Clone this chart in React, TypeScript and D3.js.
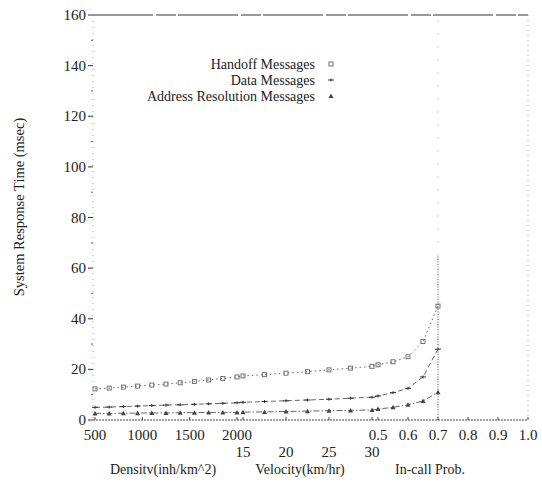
import React from "react";
import * as d3 from "d3";

// ---- tick labels ----
const yTicks = [0, 20, 40, 60, 80, 100, 120, 140, 160];
const densityTicks = [500, 1000, 1500, 2000];
const velocityTicks = [15, 20, 25, 30];
const probTicks = [0.5, 0.6, 0.7, 0.8, 0.9, 1.0];

// ---- x values of each segment ----
const densityX = [500, 650, 800, 950, 1100, 1250, 1400, 1550, 1700, 1850, 2000];
const velocityX = [15, 17.5, 20, 22.5, 25, 27.5, 30];
const probX = [0.5, 0.55, 0.6, 0.65, 0.7];

// ---- series values (msec) ----
const handoffDensity = [12.3, 12.6, 13.0, 13.4, 13.8, 14.2, 14.7, 15.2, 15.8, 16.4, 17.0];
const handoffVelocity = [17.4, 17.9, 18.5, 19.1, 19.8, 20.5, 21.2];
const handoffProb = [21.8, 23.0, 25.0, 31.0, 45.0];

const dataDensity = [5.0, 5.1, 5.3, 5.5, 5.7, 5.9, 6.0, 6.2, 6.4, 6.6, 6.8];
const dataVelocity = [7.0, 7.3, 7.6, 7.9, 8.2, 8.6, 9.0];
const dataProb = [9.5, 10.8, 12.5, 17.0, 28.0];

const addrDensity = [2.6, 2.6, 2.7, 2.7, 2.8, 2.8, 2.9, 2.9, 3.0, 3.0, 3.0];
const addrVelocity = [3.1, 3.2, 3.4, 3.5, 3.7, 3.8, 4.0];
const addrProb = [4.3, 5.0, 6.0, 7.5, 11.0];

const seriesNames = ["Handoff Messages", "Data Messages", "Address Resolution Messages"];

// vertical spike at in-call prob 0.7 (dense part up to this value)
const spikeAt = 0.7;
const spikeDenseTop = 65;

const W = 542;
const H = 487;
const left = 93;
const right = 528;
const top = 15;
const bottom = 420;

const y = d3.scaleLinear().domain([0, 160]).range([bottom, top]);
const xDensity = d3.scaleLinear().domain([500, 2000]).range([95, 237]);
const xVelocity = d3.scaleLinear().domain([15, 30]).range([243, 372]);
const xProb = d3.scaleLinear().domain([0.5, 1.0]).range([378, 528]);

function buildPoints(dv: number[], vv: number[], pv: number[]) {
  const pts: [number, number][] = [];
  densityX.forEach((d, i) => pts.push([xDensity(d), y(dv[i])]));
  velocityX.forEach((d, i) => pts.push([xVelocity(d), y(vv[i])]));
  probX.forEach((d, i) => pts.push([xProb(d), y(pv[i])]));
  return pts;
}

const series = [
  { name: seriesNames[0], pts: buildPoints(handoffDensity, handoffVelocity, handoffProb), dash: "1.5,3", marker: "square" },
  { name: seriesNames[1], pts: buildPoints(dataDensity, dataVelocity, dataProb), dash: "5,3", marker: "star" },
  { name: seriesNames[2], pts: buildPoints(addrDensity, addrVelocity, addrProb), dash: "6,2,1.5,2", marker: "triangle" },
];

const line = d3.line<[number, number]>().x((d) => d[0]).y((d) => d[1]);

function Marker({ type, x, yy }: { type: string; x: number; yy: number }) {
  if (type === "square")
    return <rect x={x - 2} y={yy - 2} width={4} height={4} fill="none" stroke="#666" strokeWidth={0.9} />;
  if (type === "star")
    return (
      <g stroke="#333" strokeWidth={1}>
        <line x1={x - 3} y1={yy} x2={x + 3} y2={yy} />
        <line x1={x} y1={yy - 1.5} x2={x} y2={yy + 1.5} />
      </g>
    );
  return <path d={`M${x},${yy - 2.5}L${x + 2.5},${yy + 2}L${x - 2.5},${yy + 2}Z`} fill="#444" />;
}

const font = "'Liberation Serif', 'DejaVu Serif', serif";

export default function App() {
  const minorY = d3.range(10, 160, 10).filter((v) => v % 20 !== 0);
  return (
    <svg width={W} height={H} style={{ position: "absolute", left: 0, top: 0, background: "#fff" }} fontFamily={font}>
      {/* frame */}
      <line x1={left} y1={y(160)} x2={right} y2={y(160)} stroke="#333" strokeWidth={1} strokeDasharray="60,3,20,2" />
      <line x1={left} y1={bottom} x2={right} y2={bottom} stroke="#444" strokeWidth={1.2} strokeDasharray="2,1" />
      <line x1={left} y1={top} x2={left} y2={bottom} stroke="#888" strokeWidth={0.8} strokeDasharray="1,5" />
      <line x1={right} y1={top} x2={right} y2={bottom} stroke="#888" strokeWidth={0.8} strokeDasharray="1,4" />
      {/* vertical spike at 0.7 */}
      <line x1={xProb(spikeAt)} y1={y(0)} x2={xProb(spikeAt)} y2={y(spikeDenseTop)} stroke="#555" strokeWidth={1} strokeDasharray="1,1.5" />
      <line x1={xProb(spikeAt)} y1={y(spikeDenseTop)} x2={xProb(spikeAt)} y2={y(160)} stroke="#888" strokeWidth={0.8} strokeDasharray="1,12" />

      {/* y ticks */}
      {yTicks.map((t) => (
        <g key={t}>
          <line x1={left - 5} x2={left} y1={y(t)} y2={y(t)} stroke="#333" strokeWidth={1} />
          <text x={left - 7} y={y(t) + 5} textAnchor="end" fontSize={15} fill="#222">
            {t}
          </text>
        </g>
      ))}
      {minorY.map((t) => (
        <line key={t} x1={left - 2} x2={left} y1={y(t)} y2={y(t)} stroke="#666" strokeWidth={1} />
      ))}

      {/* x ticks & labels */}
      {densityTicks.map((t) => (
        <g key={"d" + t}>
          <line x1={xDensity(t)} x2={xDensity(t)} y1={bottom} y2={bottom - 3} stroke="#444" />
          <text x={xDensity(t)} y={440} textAnchor="middle" fontSize={15} fill="#222">
            {t}
          </text>
        </g>
      ))}
      {velocityTicks.map((t) => (
        <g key={"v" + t}>
          <line x1={xVelocity(t)} x2={xVelocity(t)} y1={bottom} y2={bottom - 3} stroke="#444" />
          <text x={xVelocity(t)} y={457} textAnchor="middle" fontSize={15} fill="#222">
            {t}
          </text>
        </g>
      ))}
      {probTicks.map((t) => (
        <g key={"p" + t}>
          <line x1={xProb(t)} x2={xProb(t)} y1={bottom} y2={bottom - 3} stroke="#444" />
          <text x={xProb(t)} y={440} textAnchor="middle" fontSize={15} fill="#222">
            {t.toFixed(1)}
          </text>
        </g>
      ))}
      <text x={163} y={474} textAnchor="middle" fontSize={14} fill="#222">Densitv(inh/km^2)</text>
      <text x={300} y={474} textAnchor="middle" fontSize={14} fill="#222">Velocity(km/hr)</text>
      <text x={430} y={474} textAnchor="middle" fontSize={14} fill="#222">In-call Prob.</text>

      {/* y label */}
      <text transform="translate(24,207) rotate(-90)" textAnchor="middle" fontSize={14.5} fill="#222">
        System Response Time (msec)
      </text>

      {/* series */}
      {series.map((s) => (
        <g key={s.name}>
          <path d={line(s.pts) || ""} fill="none" stroke="#666" strokeWidth={1} strokeDasharray={s.dash} />
          {s.pts.map((p, i) => (
            <Marker key={i} type={s.marker} x={p[0]} yy={p[1]} />
          ))}
        </g>
      ))}

      {/* legend */}
      {series.map((s, i) => (
        <g key={"l" + i}>
          <text x={315} y={69 + i * 16} textAnchor="end" fontSize={14} fill="#222">
            {s.name}
          </text>
          <Marker type={s.marker} x={331} yy={64 + i * 16} />
        </g>
      ))}
    </svg>
  );
}
